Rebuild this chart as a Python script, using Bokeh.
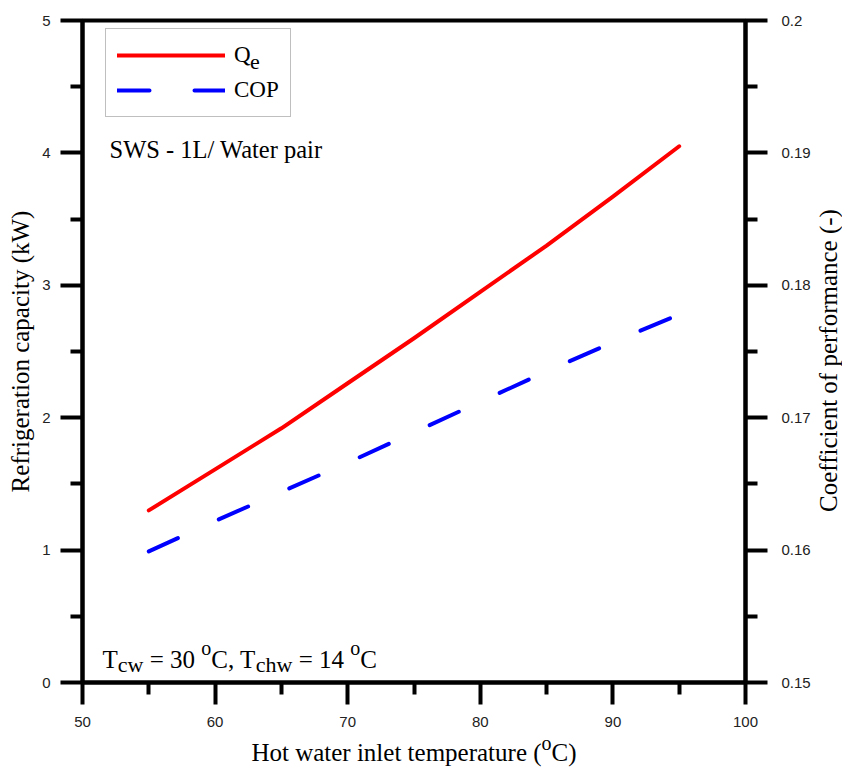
import math

from bokeh.plotting import figure
from bokeh.layouts import column, row
from bokeh.models import (LinearAxis, Range1d, FixedTicker, CustomJSTickFormatter,
                          Legend, LegendItem, Label)
from bokeh.embed import file_html
from bokeh.resources import INLINE

# Hot water inlet temperature (oC)
t_hw = [55, 60, 65, 70, 75, 80, 85, 90, 95]
# Refrigeration capacity Qe (kW)
q_e = [1.30, 1.61, 1.92, 2.26, 2.60, 2.95, 3.30, 3.67, 4.05]
# Coefficient of performance (-)
cop = [0.1599, 0.1622, 0.1644, 0.1666, 0.1689, 0.1712, 0.1735, 0.1757, 0.1778]

x_ticks = [50, 60, 70, 80, 90, 100]
x_minor = [55, 65, 75, 85, 95]
q_ticks = [0, 1, 2, 3, 4, 5]
q_minor = [0.5, 1.5, 2.5, 3.5, 4.5]
cop_ticks = [0.15, 0.16, 0.17, 0.18, 0.19, 0.2]
cop_minor = [0.155, 0.165, 0.175, 0.185, 0.195]

SERIF = "Liberation Serif"
SANS = "Liberation Sans"

# page geometry (px)
PAGE_W, PAGE_H = 842, 767
MAIN_W, MAIN_H = 814, 732
FRAME_L, FRAME_R, FRAME_T, FRAME_B = 82, 745, 20, 682

# Advance widths of Times-metric serif glyphs (per 1000 em), used to chain
# text runs with sub/superscripts.
ADV = {" ": 250, "(": 333, ")": 333, ",": 250, "-": 333, ".": 250, "/": 278,
       "=": 564, "C": 667, "H": 722, "T": 611, "a": 444, "c": 444, "e": 444,
       "h": 500, "i": 278, "l": 278, "m": 778, "n": 500, "o": 500, "p": 500,
       "r": 333, "t": 278, "u": 500, "w": 722}
for d in "0123456789":
    ADV[d] = 500


def text_width(s, size):
    return sum(ADV.get(c, 500) for c in s) * size / 1000.0


def add_runs(fig, runs, x0, y0):
    """Chain text runs (text, size, baseline shift) left to right."""
    x = x0
    for txt, size, dy in runs:
        core = txt.strip()
        lead = len(txt) - len(txt.lstrip())
        fig.add_layout(Label(x=x + text_width(" " * lead, size), y=y0 + dy,
                             x_units="screen", y_units="screen",
                             text=core, text_font=SERIF, text_font_size=f"{size}px",
                             text_color="black", text_baseline="alphabetic",
                             text_align="left"))
        x += text_width(txt, size)


def blank_strip(w, h):
    f = figure(width=w, height=h, x_range=Range1d(0, 1), y_range=Range1d(0, 1),
               output_backend="svg", toolbar_location=None,
               x_axis_type=None, y_axis_type=None,
               min_border=0, min_border_left=0, min_border_right=0,
               min_border_top=0, min_border_bottom=0)
    f.grid.visible = False
    f.outline_line_color = None
    f.background_fill_color = "white"
    f.border_fill_color = "white"
    return f


# ---- main chart -------------------------------------------------------------
p = figure(width=MAIN_W, height=MAIN_H, x_range=Range1d(50, 100),
           y_range=Range1d(0, 5), output_backend="svg", toolbar_location=None,
           min_border_left=FRAME_L, min_border_right=MAIN_W - FRAME_R,
           min_border_top=FRAME_T, min_border_bottom=MAIN_H - FRAME_B)
p.extra_y_ranges = {"cop": Range1d(0.15, 0.2)}
p.add_layout(LinearAxis(y_range_name="cop"), "right")

p.grid.visible = False
p.outline_line_color = "black"
p.outline_line_width = 4
p.background_fill_color = "white"
p.border_fill_color = "white"

p.xaxis.ticker = FixedTicker(ticks=x_ticks, minor_ticks=x_minor)
p.yaxis[0].ticker = FixedTicker(ticks=q_ticks, minor_ticks=q_minor)
p.yaxis[1].ticker = FixedTicker(ticks=cop_ticks, minor_ticks=cop_minor)
p.yaxis[1].formatter = CustomJSTickFormatter(code="return tick.toString()")

for ax in p.axis:
    ax.axis_line_width = 4
    ax.axis_line_color = "black"
    ax.major_tick_line_width = 4
    ax.minor_tick_line_width = 4
    ax.major_tick_out = 22
    ax.major_tick_in = 0
    ax.minor_tick_out = 12
    ax.minor_tick_in = 0
    ax.major_label_text_font = SANS
    ax.major_label_text_font_size = "15px"
    ax.major_label_text_color = "#222222"
    ax.major_label_standoff = 10
    ax.axis_label_text_font = SERIF
    ax.axis_label_text_font_size = "25px"
    ax.axis_label_text_font_style = "normal"
    ax.axis_label_text_color = "black"

p.xaxis.major_label_standoff = 12
p.yaxis[0].axis_label = "Refrigeration capacity (kW)"
p.yaxis[0].axis_label_standoff = 5
p.yaxis[1].major_label_standoff = 14

r_q = p.line(t_hw, q_e, line_color="#ff0000", line_width=4, line_cap="round",
             line_join="round")
r_cop = p.line(t_hw, cop, y_range_name="cop", line_color="#0000ff", line_width=4,
               line_dash="32 45", line_cap="round")

legend = Legend(items=[LegendItem(label="Q", renderers=[r_q]),
                       LegendItem(label="COP", renderers=[r_cop])],
                location=(23, 565), padding=11, spacing=5, margin=0,
                glyph_width=108, glyph_height=30, label_height=30,
                label_standoff=9, label_text_font=SERIF,
                label_text_font_size="23px", label_text_color="black",
                border_line_color="#808080", border_line_width=1,
                background_fill_alpha=0.0)
p.add_layout(legend, "center")
# subscript "e" of Qe
p.add_layout(Label(x=167.6, y=621, x_units="screen", y_units="screen", text="e",
                   text_font=SERIF, text_font_size="22px", text_color="black",
                   text_baseline="middle", text_align="left"))

# pair annotation
p.add_layout(Label(x=27, y=533, x_units="screen", y_units="screen",
                   text="SWS - 1L/ Water pair", text_font=SERIF,
                   text_font_size="24.5px", text_color="black",
                   text_baseline="alphabetic", text_align="left"))

# operating conditions
add_runs(p, [("T", 25, 0), ("cw", 22, -5), (" = 30 ", 25, 0), ("o", 20, 12),
             ("C, T", 25, 0), ("chw", 22, -5), (" = 14 ", 25, 0), ("o", 20, 12),
             ("C", 25, 0)], 20, 23)

# ---- right-hand axis title (its frame lines up with the chart frame) --------
p_right = blank_strip(PAGE_W - MAIN_W, MAIN_H)
p_right.add_layout(Label(x=14, y=FRAME_B - 360, x_units="screen", y_units="screen",
                         text="Coefficient of performance (-)", angle=math.pi / 2,
                         text_font=SERIF, text_font_size="25px", text_color="black",
                         text_align="center", text_baseline="middle"))

# ---- x-axis title with superscript ------------------------------------------
p_bottom = blank_strip(PAGE_W, PAGE_H - MAIN_H)
x_title = [("Hot water inlet temperature (", 25, 0), ("o", 20, 10), ("C)", 25, 0)]
total = sum(text_width(t, s) for t, s, _ in x_title)
add_runs(p_bottom, x_title, (FRAME_L + FRAME_R) / 2 - total / 2, 15)

layout = column(row(p, p_right, spacing=0), p_bottom, spacing=0)

open("out.html", "w").write(file_html(layout, INLINE))
